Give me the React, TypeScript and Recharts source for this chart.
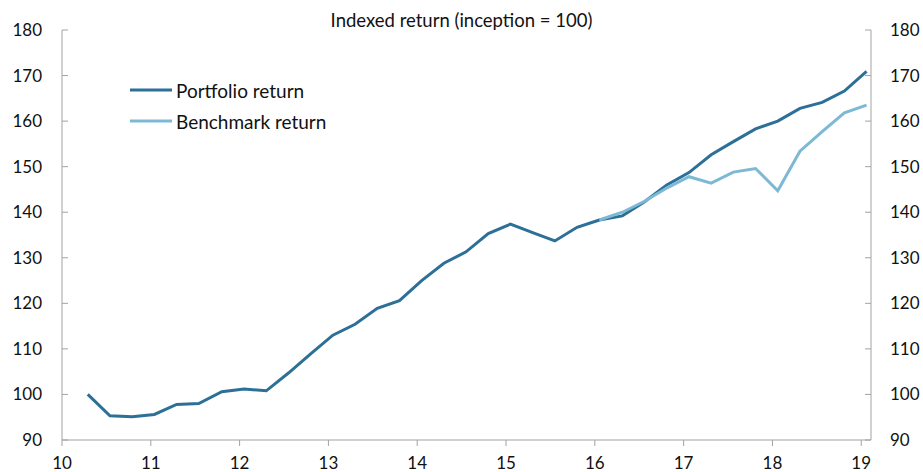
import React from "react";
import { LineChart, Line, XAxis, YAxis } from "recharts";

const periods = [10.29, 10.54, 10.79, 11.04, 11.29, 11.54, 11.8, 12.05, 12.3, 12.55, 12.8, 13.05, 13.3, 13.55, 13.8, 14.05, 14.3, 14.55, 14.8, 15.05, 15.3, 15.55, 15.8, 16.05, 16.31, 16.56, 16.81, 17.06, 17.31, 17.56, 17.81, 18.06, 18.31, 18.56, 18.81, 19.06];
const portfolio = [100, 95.3, 95.1, 95.6, 97.8, 98.0, 100.6, 101.2, 100.8, 104.7, 108.9, 113.0, 115.4, 118.9, 120.6, 125.0, 128.8, 131.3, 135.3, 137.4, 135.5, 133.7, 136.7, 138.3, 139.2, 142.3, 146.0, 148.7, 152.6, 155.5, 158.3, 160.0, 162.8, 164.1, 166.6, 170.9];
const benchmark: (number | null)[] = [null, null, null, null, null, null, null, null, null, null, null, null, null, null, null, null, null, null, null, null, null, null, null, 138.3, 140.0, 142.4, 145.3, 147.8, 146.4, 148.8, 149.6, 144.7, 153.4, 157.7, 161.8, 163.5];
const xTicks = [10, 11, 12, 13, 14, 15, 16, 17, 18, 19];
const yTicks = [90, 100, 110, 120, 130, 140, 150, 160, 170, 180];

const title = "Indexed return (inception = 100)";
const seriesNames = { portfolio: "Portfolio return", benchmark: "Benchmark return" };
const colors = { portfolio: "#2C6F97", benchmark: "#7DB9D5" };

const data = periods.map((p, i) => ({ x: p, portfolio: portfolio[i], benchmark: benchmark[i] }));

const FONT = "Lato, 'Open Sans', sans-serif";
const AXIS = "#A3A3A3";

const LeftTick = (props: any) => {
  const { x, y, payload } = props;
  return (
    <g>
      <line x1={x + 20} x2={x + 26} y1={y} y2={y} stroke={AXIS} strokeWidth={1} />
      <text x={x} y={y} dy={6} textAnchor="end" fontSize={17} fontFamily={FONT} fill="#111">
        {payload.value}
      </text>
    </g>
  );
};

const RightTick = (props: any) => {
  const { x, y, payload } = props;
  return (
    <g>
      <line x1={x - 19} x2={x - 25} y1={y} y2={y} stroke={AXIS} strokeWidth={1} />
      <text x={x} y={y} dy={6} textAnchor="start" fontSize={17} fontFamily={FONT} fill="#111">
        {payload.value}
      </text>
    </g>
  );
};

const BottomTick = (props: any) => {
  const { x, y, payload } = props;
  return (
    <g>
      <line x1={x} x2={x} y1={y} y2={y + 6} stroke={AXIS} strokeWidth={1} />
      <text x={x} y={y + 29} textAnchor="middle" fontSize={17} fontFamily={FONT} fill="#111">
        {payload.value}
      </text>
    </g>
  );
};

export default function App() {
  return (
    <div style={{ position: "absolute", left: 0, top: 0, width: 923, height: 472, background: "#fff" }}>
      <div
        style={{
          position: "absolute",
          left: 0,
          width: 923,
          top: 9,
          lineHeight: "22px",
          textAlign: "center",
          fontFamily: FONT,
          fontSize: 18.5,
          color: "#111",
          zIndex: 2,
        }}
      >
        {title}
      </div>
      <div
        style={{
          position: "absolute",
          left: 130,
          top: 75,
          fontFamily: FONT,
          fontSize: 19,
          color: "#111",
          zIndex: 2,
        }}
      >
        {(["portfolio", "benchmark"] as const).map((k) => (
          <div key={k} style={{ display: "flex", alignItems: "center", height: 30.7 }}>
            <svg width={44} height={6} style={{ display: "block" }}>
              <line x1={0} x2={42} y1={3} y2={3} stroke={colors[k]} strokeWidth={3} />
            </svg>
            <span style={{ marginLeft: 2 }}>{seriesNames[k]}</span>
          </div>
        ))}
      </div>
      <LineChart width={923} height={472} data={data} margin={{ top: 30, right: 12, bottom: 6, left: 12 }}>
        <XAxis
          dataKey="x"
          type="number"
          domain={[10, 19.11]}
          ticks={xTicks}
          allowDataOverflow
          stroke={AXIS}
          tickLine={false}
          tickSize={0}
          tickMargin={0}
          height={26}
          tick={<BottomTick />}
          interval={0}
        />
        <YAxis
          yAxisId="left"
          orientation="left"
          domain={[90, 180]}
          ticks={yTicks}
          width={50}
          stroke={AXIS}
          tickLine={false}
          tickSize={0}
          tickMargin={20}
          tick={<LeftTick />}
          interval={0}
        />
        <YAxis
          yAxisId="right"
          orientation="right"
          domain={[90, 180]}
          ticks={yTicks}
          width={40}
          stroke={AXIS}
          tickLine={false}
          tickSize={0}
          tickMargin={19}
          tick={<RightTick />}
          interval={0}
        />
        <Line
          yAxisId="left"
          type="linear"
          dataKey="portfolio"
          name={seriesNames.portfolio}
          stroke={colors.portfolio}
          strokeWidth={3}
          dot={false}
          activeDot={false}
          isAnimationActive={false}
        />
        <Line
          yAxisId="right"
          type="linear"
          dataKey="benchmark"
          name={seriesNames.benchmark}
          stroke={colors.benchmark}
          strokeWidth={3}
          dot={false}
          activeDot={false}
          connectNulls={false}
          isAnimationActive={false}
        />
      </LineChart>
    </div>
  );
}
